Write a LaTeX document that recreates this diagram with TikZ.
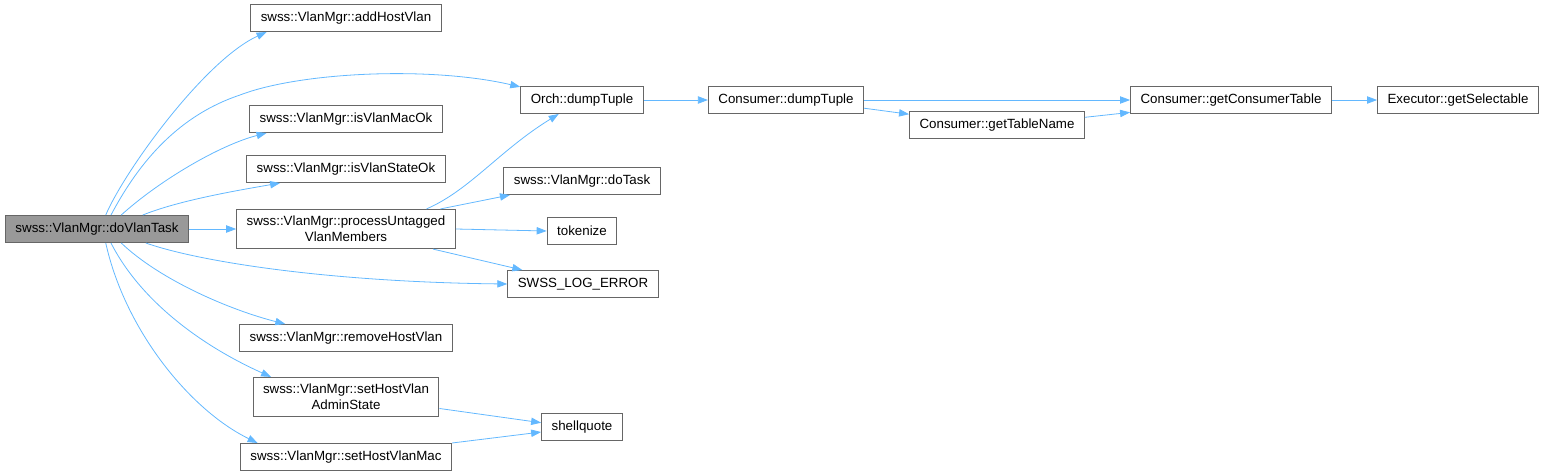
\documentclass[tikz,border=0pt]{standalone}
\usepackage{fontspec}
\setmainfont{Liberation Sans}
\usetikzlibrary{arrows.meta}
\definecolor{edgeblue}{RGB}{99,184,255}
\definecolor{boxgrey}{RGB}{102,102,102}
\definecolor{rootgrey}{RGB}{153,153,153}

\begin{document}
\begin{tikzpicture}[x=0.75pt, y=-0.75pt,
      fn/.style={draw=boxgrey, fill=white, line width=0.75pt, inner xsep=7.5pt,
                 inner ysep=5pt, minimum height=20.25pt, align=center,
                 font=\fontsize{10}{12}\selectfont},
      rootfn/.style={fn, fill=rootgrey},
      call/.style={-{Triangle[length=7.5pt, width=5.5pt]}, draw=edgeblue, line width=0.6pt}]

    \useasboundingbox (0,0) rectangle (1545,475);

    \node[rootfn] (task) at (97,229) {swss::VlanMgr::doVlanTask};

    \node[fn] (addhv)   at (346,18)  {swss::VlanMgr::addHostVlan};
    \node[fn] (macok)   at (346,119) {swss::VlanMgr::isVlanMacOk};
    \node[fn] (stateok) at (346,169) {swss::VlanMgr::isVlanStateOk};
    \node[fn] (untag)   at (346,229) {swss::VlanMgr::processUntagged\\VlanMembers};
    \node[fn] (remhv)   at (346,338) {swss::VlanMgr::removeHostVlan};
    \node[fn] (admin)   at (346,397) {swss::VlanMgr::setHostVlan\\AdminState};
    \node[fn] (hvmac)   at (346,457) {swss::VlanMgr::setHostVlanMac};

    \node[fn] (orch)    at (582,100) {Orch::dumpTuple};
    \node[fn] (dotask)  at (582,181) {swss::VlanMgr::doTask};
    \node[fn] (tok)     at (582,231) {tokenize};
    \node[fn] (logerr)  at (583,284) {SWSS\_LOG\_ERROR};
    \node[fn] (shq)     at (582,427) {shellquote};

    \node[fn] (cdump)   at (786,100)  {Consumer::dumpTuple};
    \node[fn] (tname)   at (997,125)  {Consumer::getTableName};
    \node[fn] (ctable)  at (1231,100) {Consumer::getConsumerTable};
    \node[fn] (getsel)  at (1458,100) {Executor::getSelectable};

    \draw[call] (task.58) .. controls (125,170) and (205,60) .. (addhv.190);
    \draw[call] (task.45) .. controls (140,160) and (180,115) .. (240,95)
                          .. controls (300,72) and (430,66) .. (orch.168);
    \draw[call] (task.30) .. controls (160,180) and (220,145) .. (macok.190);
    \draw[call] (task.17) .. controls (180,200) and (240,190) .. (stateok.192);
    \draw[call] (task.east) -- (untag.west);
    \draw[call] (task.-16) .. controls (200,262) and (330,282) .. (logerr.west);
    \draw[call] (task.-30) .. controls (160,280) and (230,310) .. (remhv.167);
    \draw[call] (task.-45) .. controls (140,300) and (200,345) .. (admin.165);
    \draw[call] (task.-58) .. controls (125,330) and (190,410) .. (hvmac.171);

    \draw[call] (untag.14) .. controls (470,190) and (500,150) .. (orch.211);
    \draw[call] (untag.12) -- (dotask.191);
    \draw[call] (untag.east) -- (tok.west);
    \draw[call] (untag.-13) -- (logerr.167);
    \draw[call] (admin.-7) -- (shq.174);
    \draw[call] (hvmac.north east) -- (shq.-173);

    \draw[call] (orch.east) -- (cdump.west);
    \draw[call] (cdump.east) -- (ctable.west);
    \draw[call] (cdump.-6) -- (tname.173);
    \draw[call] (tname.5) -- (ctable.-173);
    \draw[call] (ctable.east) -- (getsel.west);
  \end{tikzpicture}
\end{document}
